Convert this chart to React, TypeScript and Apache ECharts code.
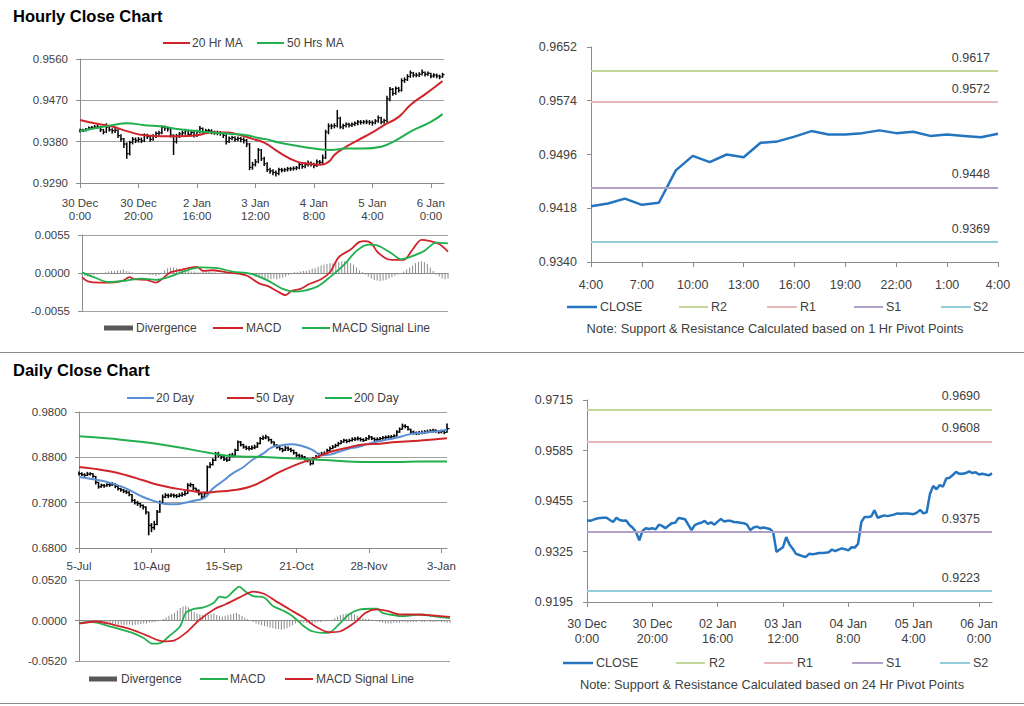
import React, { useEffect, useRef } from 'react';
import * as echarts from 'echarts';

const FONT = '"Liberation Sans", Arial, Helvetica, sans-serif';
const TXT = '#404040';
const AX = '#8c8c8c';
const GRID = '#a0a0a0';
const RED = '#d0242b';
const GREEN = '#22b04e';
const BLUE = '#5b8fd4';
const CLOSE_BLUE = '#2474c0';
const DIV_GRAY = '#8a8a8a';
const PIVOT_COLORS = ['#c4d79b', '#e6b8b7', '#b1a0c7', '#92cddc'];

// ---------- Hourly data (30 Dec 0:00 .. 06 Jan 4:00) ----------
const hourlyTickIdx = [0, 20, 40, 60, 80, 100, 120];
const hourlyTickLabels = ['30 Dec\n0:00', '30 Dec\n20:00', '2 Jan\n16:00', '3 Jan\n12:00', '4 Jan\n8:00', '5 Jan\n4:00', '6 Jan\n0:00'];
const pivotTickLabels = ['30 Dec\n0:00', '30 Dec\n20:00', '02 Jan\n16:00', '03 Jan\n12:00', '04 Jan\n8:00', '05 Jan\n4:00', '06 Jan\n0:00'];
const hourlyYTicks = [0.929, 0.938, 0.947, 0.956];

const hourlyClose = [
  0.9405, 0.9404, 0.9407, 0.9410, 0.9411, 0.9412, 0.9412, 0.9406, 0.9401, 0.9412,
  0.9406, 0.9404, 0.9405, 0.9393, 0.9386, 0.9375, 0.9354, 0.9378, 0.9385, 0.9383,
  0.9385, 0.9382, 0.9394, 0.9391, 0.9385, 0.9392, 0.9398, 0.9399, 0.9411, 0.9410,
  0.9408, 0.9394, 0.9380, 0.9393, 0.9397, 0.9399, 0.9404, 0.9396, 0.9400, 0.9394,
  0.9402, 0.9409, 0.9402, 0.9404, 0.9404, 0.9401, 0.9400, 0.9399, 0.9398, 0.9394,
  0.9380, 0.9387, 0.9389, 0.9385, 0.9387, 0.9385, 0.9383, 0.9375, 0.9324, 0.9330,
  0.9336, 0.9362, 0.9343, 0.9332, 0.9319, 0.9316, 0.9313, 0.9311, 0.9319, 0.9318,
  0.9319, 0.9321, 0.9321, 0.9322, 0.9323, 0.9330, 0.9326, 0.9330, 0.9333, 0.9331,
  0.9328, 0.9336, 0.9335, 0.9345, 0.9401, 0.9414, 0.9414, 0.9415, 0.9431, 0.9412,
  0.9415, 0.9418, 0.9416, 0.9418, 0.9420, 0.9423, 0.9422, 0.9423, 0.9423, 0.9422,
  0.9421, 0.9425, 0.9432, 0.9423, 0.9426, 0.9473, 0.9494, 0.9485, 0.9496, 0.9492,
  0.9513, 0.9515, 0.9522, 0.9530, 0.9525, 0.9525, 0.9527, 0.9531, 0.9527, 0.9529,
  0.9523, 0.9525, 0.9523, 0.9521, 0.9526,
];
const hourlyHigh = [
  0.9408, 0.9408, 0.9410, 0.9413, 0.9414, 0.9416, 0.9418, 0.9414, 0.9408, 0.9420,
  0.9414, 0.9409, 0.9409, 0.9407, 0.9396, 0.9388, 0.9378, 0.9382, 0.9390, 0.9389,
  0.9390, 0.9389, 0.9398, 0.9397, 0.9394, 0.9396, 0.9402, 0.9404, 0.9416, 0.9415,
  0.9413, 0.9410, 0.9396, 0.9397, 0.9401, 0.9404, 0.9408, 0.9406, 0.9404, 0.9403,
  0.9406, 0.9414, 0.9411, 0.9408, 0.9408, 0.9407, 0.9404, 0.9404, 0.9403, 0.9400,
  0.9396, 0.9391, 0.9393, 0.9392, 0.9391, 0.9390, 0.9389, 0.9386, 0.9377, 0.9336,
  0.9342, 0.9366, 0.9364, 0.9347, 0.9335, 0.9323, 0.9320, 0.9317, 0.9323, 0.9323,
  0.9323, 0.9325, 0.9325, 0.9326, 0.9327, 0.9335, 0.9333, 0.9335, 0.9339, 0.9337,
  0.9334, 0.9341, 0.9340, 0.9352, 0.9406, 0.9420, 0.9419, 0.9420, 0.9449, 0.9434,
  0.9419, 0.9422, 0.9421, 0.9422, 0.9424, 0.9427, 0.9427, 0.9427, 0.9428, 0.9427,
  0.9426, 0.9429, 0.9437, 0.9434, 0.9430, 0.9480, 0.9499, 0.9497, 0.9500, 0.9499,
  0.9518, 0.9520, 0.9527, 0.9535, 0.9532, 0.9530, 0.9531, 0.9537, 0.9533, 0.9533,
  0.9530, 0.9529, 0.9528, 0.9526, 0.9530,
];
const hourlyLow = [
  0.9400, 0.9401, 0.9402, 0.9405, 0.9407, 0.9408, 0.9408, 0.9401, 0.9396, 0.9399,
  0.9402, 0.9398, 0.9399, 0.9388, 0.9380, 0.9366, 0.9343, 0.9350, 0.9374, 0.9377,
  0.9378, 0.9377, 0.9379, 0.9386, 0.9380, 0.9382, 0.9388, 0.9393, 0.9396, 0.9404,
  0.9402, 0.9389, 0.9351, 0.9376, 0.9388, 0.9392, 0.9395, 0.9391, 0.9392, 0.9389,
  0.9390, 0.9398, 0.9397, 0.9398, 0.9399, 0.9396, 0.9395, 0.9394, 0.9393, 0.9388,
  0.9374, 0.9377, 0.9383, 0.9380, 0.9381, 0.9379, 0.9376, 0.9368, 0.9318, 0.9319,
  0.9326, 0.9333, 0.9338, 0.9327, 0.9314, 0.9310, 0.9307, 0.9304, 0.9307, 0.9313,
  0.9314, 0.9315, 0.9316, 0.9317, 0.9318, 0.9320, 0.9321, 0.9322, 0.9326, 0.9326,
  0.9322, 0.9325, 0.9329, 0.9331, 0.9342, 0.9396, 0.9407, 0.9409, 0.9411, 0.9408,
  0.9407, 0.9411, 0.9411, 0.9412, 0.9414, 0.9416, 0.9417, 0.9418, 0.9418, 0.9417,
  0.9415, 0.9418, 0.9421, 0.9418, 0.9419, 0.9422, 0.9468, 0.9480, 0.9482, 0.9487,
  0.9489, 0.9508, 0.9512, 0.9519, 0.9520, 0.9520, 0.9521, 0.9524, 0.9522, 0.9523,
  0.9518, 0.9519, 0.9518, 0.9516, 0.9519,
];
// [hour index, value]
const hourlyMA20 = [
  [0, 0.9427], [5, 0.9420], [11, 0.9413], [16, 0.9403], [22, 0.9394], [28, 0.9392], [34, 0.9392],
  [40, 0.9394], [45, 0.9400], [50, 0.9400], [55, 0.9394], [59, 0.9386], [63, 0.9378], [68, 0.9357],
  [74, 0.9337], [78, 0.9332], [82, 0.9330], [85, 0.9336], [87, 0.9351], [90, 0.9365], [95, 0.9383],
  [100, 0.9400], [104, 0.9416], [109, 0.9434], [113, 0.9460], [118, 0.9483], [122, 0.9502], [124, 0.9512],
];
const hourlyMA50 = [
  [0, 0.9403], [5, 0.9409], [11, 0.9416], [16, 0.9420], [22, 0.9416], [28, 0.9413], [34, 0.9407],
  [40, 0.9403], [45, 0.9400], [51, 0.9397], [57, 0.9394], [61, 0.9388], [64, 0.9385], [68, 0.9378],
  [74, 0.9371], [80, 0.9365], [86, 0.9362], [91, 0.9365], [97, 0.9365], [103, 0.9369], [108, 0.9383],
  [114, 0.9405], [120, 0.9423], [124, 0.9440],
];
const hourlyMACD = [
  [0, -0.0006], [2, -0.0012], [6, -0.0014], [10, -0.0014], [14, -0.0011], [16, -0.0006], [18, -0.0009],
  [22, -0.0010], [25, -0.0014], [27, -0.0009], [30, 0.0001], [33, 0.0004], [35, 0.0006], [39, 0.0009],
  [41, 0.0003], [44, 0.0004], [49, 0.0001], [53, -0.0001], [56, -0.0004], [60, -0.0015], [63, -0.0019],
  [66, -0.0026], [69, -0.0032], [71, -0.0026], [74, -0.0023], [77, -0.0016], [81, -0.0009], [84, 0.0001],
  [87, 0.0023], [91, 0.0034], [94, 0.0045], [96, 0.0046], [98, 0.0043], [100, 0.0031], [103, 0.0021],
  [105, 0.0019], [109, 0.0019], [112, 0.0034], [115, 0.0048], [118, 0.0046], [121, 0.0042], [124, 0.0031],
];
const hourlySignal = [
  [0, 0.0001], [4, -0.0006], [9, -0.0013], [15, -0.0011], [20, -0.0008], [25, -0.0010], [30, -0.0005],
  [35, 0.0003], [40, 0.0008], [46, 0.0007], [51, 0.0002], [57, -0.0001], [63, -0.0011], [68, -0.0023],
  [72, -0.0027], [75, -0.0026], [80, -0.0019], [84, -0.0006], [89, 0.0013], [93, 0.0032], [97, 0.0041],
  [100, 0.0040], [105, 0.0028], [108, 0.0020], [111, 0.0023], [116, 0.0032], [120, 0.0044], [124, 0.0043],
];
const hourlyDiv = [
  -0.0003, -0.0004, -0.0005, -0.0004, -0.0003, -0.0002, -0.0001, 0, 0.0001, 0.0002,
  0.0003, 0.0003, 0.0004, 0.0004, 0.0005, 0.0003, 0.0002, 0.0001, 0, 0,
  -0.0001, -0.0002, -0.0002, -0.0003, -0.0003, -0.0004, -0.0003, -0.0001, 0.0004, 0.0007,
  0.0008, 0.0008, 0.0007, 0.0006, 0.0005, 0.0003, 0.0003, 0.0002, 0.0002, 0.0001,
  0.0001, 0.0002, 0.0003, 0.0002, 0.0001, 0.0001, 0, 0, 0, -0.0001,
  0, 0, 0, -0.0001, 0, 0, -0.0001, -0.0002, -0.0003, -0.0005,
  -0.0006, -0.0007, -0.0008, -0.0009, -0.0009, -0.0008, -0.0009, -0.0008, -0.0007, -0.0005,
  -0.0003, 0, 0.0001, 0.0001, 0.0002, 0.0003, 0.0003, 0.0004, 0.0006, 0.0007,
  0.0009, 0.0011, 0.0012, 0.0013, 0.0014, 0.0014, 0.0015, 0.0016, 0.0017, 0.0017,
  0.0016, 0.0014, 0.0012, 0.0008, 0.0004, 0.0001, -0.0002, -0.0005, -0.0008, -0.0010,
  -0.0011, -0.0012, -0.0011, -0.0010, -0.0008, -0.0006, -0.0004, -0.0002, 0, 0.0002,
  0.0005, 0.0008, 0.0011, 0.0014, 0.0016, 0.0017, 0.0016, 0.0013, 0.0008, 0.0003,
  -0.0002, -0.0005, -0.0008, -0.0009, -0.0008,
];

// last 24 hours (5 Jan 4:00 .. 6 Jan 4:00)
const lastDayHours = ['4:00', '5:00', '6:00', '7:00', '8:00', '9:00', '10:00', '11:00', '12:00', '13:00', '14:00', '15:00', '16:00', '17:00', '18:00', '19:00', '20:00', '21:00', '22:00', '23:00', '0:00', '1:00', '2:00', '3:00', '4:00'];
const lastDayStart = 100;
const pivotNames = ['R2', 'R1', 'S1', 'S2'];
const hourlyPivots = [0.9617, 0.9572, 0.9448, 0.9369];
const hourPivotYTicks = [0.934, 0.9418, 0.9496, 0.9574, 0.9652];
const dailyPivots = [0.9690, 0.9608, 0.9375, 0.9223];
const dayPivotYTicks = [0.9195, 0.9325, 0.9455, 0.9585, 0.9715];

// ---------- Daily data (5 Jul .. 4 Jan) ----------
const dailyTickIdx = [0, 26, 52, 78, 104, 130];
const dailyTickLabels = ['5-Jul', '10-Aug', '15-Sep', '21-Oct', '28-Nov', '3-Jan'];
const dailyYTicks = [0.68, 0.78, 0.88, 0.98];
const dailyClose = [
  0.8441, 0.8420, 0.8404, 0.8430, 0.8441, 0.8380, 0.8250, 0.8150, 0.8183, 0.8170,
  0.8198, 0.8190, 0.8212, 0.8160, 0.8110, 0.8080, 0.8051, 0.8030, 0.7980, 0.7852,
  0.7800, 0.7779, 0.7740, 0.7704, 0.7594, 0.7300, 0.7250, 0.7320, 0.7594, 0.7800,
  0.7925, 0.7962, 0.7950, 0.7970, 0.7955, 0.7940, 0.7962, 0.7980, 0.8000, 0.8183,
  0.8198, 0.8120, 0.8073, 0.8000, 0.7925, 0.8000, 0.8587, 0.8640, 0.8735, 0.8882,
  0.8845, 0.8808, 0.8760, 0.8735, 0.8845, 0.8845, 0.8955, 0.9138, 0.9080, 0.9028,
  0.9000, 0.8992, 0.9010, 0.9028, 0.9100, 0.9213, 0.9230, 0.9249, 0.9190, 0.9138,
  0.9070, 0.9028, 0.8990, 0.8955, 0.9006, 0.8980, 0.8955, 0.8900, 0.8845, 0.8830,
  0.8808, 0.8770, 0.8735, 0.8660, 0.8772, 0.8810, 0.8860, 0.8870, 0.8882, 0.8950,
  0.8992, 0.9028, 0.9060, 0.9102, 0.9140, 0.9175, 0.9153, 0.9170, 0.9197, 0.9205,
  0.9213, 0.9190, 0.9175, 0.9210, 0.9249, 0.9215, 0.9190, 0.9200, 0.9213, 0.9230,
  0.9240, 0.9249, 0.9255, 0.9271, 0.9359, 0.9420, 0.9491, 0.9480, 0.9420, 0.9359,
  0.9340, 0.9323, 0.9340, 0.9345, 0.9360, 0.9365, 0.9380, 0.9396, 0.9370, 0.9360,
  0.9374, 0.9350, 0.9433,
];
const dailyHigh = [
  0.8490, 0.8470, 0.8450, 0.8480, 0.8470, 0.8450, 0.8390, 0.8260, 0.8220, 0.8210,
  0.8230, 0.8230, 0.8250, 0.8230, 0.8170, 0.8130, 0.8100, 0.8080, 0.8050, 0.7990,
  0.7880, 0.7840, 0.7800, 0.7760, 0.7720, 0.7600, 0.7350, 0.7400, 0.7640, 0.7850,
  0.7980, 0.8010, 0.8000, 0.8010, 0.8000, 0.7990, 0.8010, 0.8030, 0.8060, 0.8230,
  0.8240, 0.8210, 0.8130, 0.8090, 0.8020, 0.8040, 0.8620, 0.8690, 0.8780, 0.8920,
  0.8920, 0.8870, 0.8830, 0.8800, 0.8880, 0.8900, 0.8990, 0.9170, 0.9160, 0.9100,
  0.9060, 0.9050, 0.9060, 0.9080, 0.9140, 0.9250, 0.9280, 0.9300, 0.9260, 0.9210,
  0.9150, 0.9090, 0.9050, 0.9010, 0.9050, 0.9040, 0.9010, 0.8970, 0.8920, 0.8880,
  0.8860, 0.8830, 0.8790, 0.8750, 0.8810, 0.8850, 0.8900, 0.8920, 0.8930, 0.8990,
  0.9040, 0.9070, 0.9100, 0.9140, 0.9180, 0.9210, 0.9200, 0.9210, 0.9240, 0.9250,
  0.9260, 0.9240, 0.9220, 0.9250, 0.9290, 0.9270, 0.9240, 0.9240, 0.9250, 0.9270,
  0.9280, 0.9290, 0.9290, 0.9310, 0.9400, 0.9460, 0.9544, 0.9530, 0.9490, 0.9430,
  0.9390, 0.9370, 0.9380, 0.9390, 0.9400, 0.9410, 0.9420, 0.9430, 0.9420, 0.9400,
  0.9410, 0.9400, 0.9544,
];
const dailyLow = [
  0.8400, 0.8390, 0.8370, 0.8390, 0.8400, 0.8350, 0.8200, 0.8110, 0.8130, 0.8130,
  0.8150, 0.8150, 0.8170, 0.8120, 0.8070, 0.8040, 0.8010, 0.7990, 0.7940, 0.7810,
  0.7760, 0.7730, 0.7690, 0.7650, 0.7540, 0.7080, 0.7150, 0.7200, 0.7300, 0.7580,
  0.7780, 0.7900, 0.7900, 0.7920, 0.7910, 0.7900, 0.7920, 0.7930, 0.7950, 0.7990,
  0.8140, 0.8080, 0.8030, 0.7960, 0.7860, 0.7900, 0.7990, 0.8560, 0.8620, 0.8720,
  0.8800, 0.8760, 0.8720, 0.8700, 0.8720, 0.8800, 0.8830, 0.8940, 0.9040, 0.8990,
  0.8960, 0.8950, 0.8960, 0.8980, 0.9010, 0.9090, 0.9180, 0.9200, 0.9150, 0.9100,
  0.9030, 0.8990, 0.8950, 0.8910, 0.8940, 0.8940, 0.8910, 0.8860, 0.8800, 0.8790,
  0.8770, 0.8730, 0.8690, 0.8620, 0.8640, 0.8750, 0.8790, 0.8830, 0.8840, 0.8870,
  0.8940, 0.8980, 0.9010, 0.9040, 0.9090, 0.9120, 0.9110, 0.9130, 0.9150, 0.9160,
  0.9170, 0.9150, 0.9140, 0.9160, 0.9190, 0.9180, 0.9150, 0.9160, 0.9170, 0.9190,
  0.9200, 0.9210, 0.9210, 0.9230, 0.9260, 0.9340, 0.9410, 0.9440, 0.9390, 0.9320,
  0.9300, 0.9290, 0.9300, 0.9310, 0.9320, 0.9330, 0.9340, 0.9350, 0.9340, 0.9320,
  0.9330, 0.9310, 0.9340,
];
const dailyMA20 = [
  [0, 0.8366], [5, 0.8315], [11, 0.8242], [17, 0.8110], [23, 0.7925], [28, 0.7815], [31, 0.7770],
  [35, 0.7765], [38, 0.7800], [42, 0.7852], [45, 0.7903], [48, 0.8110], [52, 0.8293], [55, 0.8441],
  [59, 0.8587], [62, 0.8735], [66, 0.8880], [69, 0.9015], [73, 0.9065], [76, 0.9088], [80, 0.9050],
  [84, 0.8955], [87, 0.8845], [90, 0.8860], [93, 0.8918], [97, 0.8992], [100, 0.9028], [104, 0.9102],
  [108, 0.9160], [111, 0.9198], [115, 0.9249], [118, 0.9301], [122, 0.9337], [126, 0.9359], [129, 0.9381],
  [132, 0.9410],
];
const dailyMA50 = [
  [0, 0.8587], [5, 0.8551], [11, 0.8492], [17, 0.8404], [23, 0.8293], [29, 0.8183], [35, 0.8110],
  [41, 0.8051], [45, 0.8022], [49, 0.8040], [55, 0.8073], [61, 0.8146], [66, 0.8280], [72, 0.8477],
  [78, 0.8640], [84, 0.8772], [90, 0.8918], [96, 0.9006], [102, 0.9081], [108, 0.9102], [114, 0.9138],
  [120, 0.9160], [126, 0.9190], [132, 0.9220],
];
const dailyMA200 = [
  [0, 0.9264], [11, 0.9213], [23, 0.9138], [35, 0.9028], [47, 0.8896], [54, 0.8829], [60, 0.8815],
  [66, 0.8808], [78, 0.8772], [90, 0.8735], [102, 0.8697], [114, 0.8697], [122, 0.8710], [132, 0.8710],
];
const dailyMACD = [
  [0, -0.0030], [5, -0.0020], [10, -0.0065], [15, -0.0116], [19, -0.0159], [23, -0.0224], [26, -0.0297],
  [29, -0.0290], [32, -0.0202], [36, -0.0073], [38, 0.0099], [41, 0.0151], [44, 0.0164], [48, 0.0228],
  [50, 0.0306], [52, 0.0293], [55, 0.0378], [57, 0.0435], [59, 0.0378], [62, 0.0314], [66, 0.0293],
  [69, 0.0185], [73, 0.0120], [76, 0.0055], [80, -0.0073], [83, -0.0138], [87, -0.0159], [89, -0.0155],
  [93, -0.0030], [96, 0.0077], [100, 0.0142], [104, 0.0151], [106, 0.0151], [108, 0.0099], [112, 0.0069],
  [115, 0.0055], [119, 0.0069], [122, 0.0077], [126, 0.0055], [131, 0.0034], [132, 0.0034],
];
const dailySignal = [
  [0, -0.0039], [6, -0.0013], [12, -0.0052], [18, -0.0107], [24, -0.0190], [30, -0.0267], [34, -0.0254],
  [38, -0.0159], [43, 0.0013], [48, 0.0142], [52, 0.0206], [57, 0.0293], [62, 0.0370], [66, 0.0340],
  [70, 0.0249], [75, 0.0142], [80, 0.0034], [84, -0.0073], [89, -0.0151], [93, -0.0138], [98, -0.0030],
  [102, 0.0099], [106, 0.0142], [110, 0.0120], [114, 0.0077], [120, 0.0077], [126, 0.0064], [132, 0.0047],
];
const dailyDiv = [
  -0.001, -0.001, -0.0015, -0.002, -0.002, -0.0025, -0.003, -0.003, -0.0035, -0.004,
  -0.004, -0.0045, -0.005, -0.005, -0.0055, -0.005, -0.006, -0.0055, -0.005, -0.006,
  -0.0055, -0.005, -0.0045, -0.004, -0.004, -0.003, -0.0025, -0.002, -0.001, 0.0005,
  0.002, 0.004, 0.006, 0.008, 0.01, 0.013, 0.016, 0.018, 0.019, 0.017,
  0.013, 0.011, 0.009, 0.008, 0.007, 0.006, 0.007, 0.008, 0.009, 0.007,
  0.006, 0.005, 0.006, 0.007, 0.008, 0.009, 0.01, 0.008, 0.006, 0.004,
  0.002, 0, -0.002, -0.004, -0.005, -0.006, -0.007, -0.008, -0.009, -0.01,
  -0.011, -0.011, -0.012, -0.011, -0.01, -0.008, -0.006, -0.004, -0.002, -0.002,
  -0.003, -0.003, -0.004, -0.003, -0.003, -0.002, -0.002, -0.001, -0.001, 0,
  0.001, 0.003, 0.005, 0.007, 0.008, 0.009, 0.009, 0.009, 0.008, 0.006,
  0.004, 0.003, 0.002, 0.002, 0.001, 0, -0.001, -0.002, -0.003, -0.004,
  -0.004, -0.004, -0.003, -0.003, -0.003, -0.002, -0.002, -0.003, -0.002, -0.002,
  -0.002, -0.001, -0.002, -0.002, -0.001, -0.002, -0.002, -0.002, -0.001, -0.002,
  -0.002, -0.003, -0.003,
];

// ---------- helpers ----------
const fmt4 = (v: number) => (Math.abs(v) < 1e-9 ? 0 : v).toFixed(4);
const pickLabel = (labels: string[], idx: number[]) => (v: number) => {
  const k = idx.indexOf(Math.round(v));
  return k >= 0 ? labels[k] : '';
};
const axLine = { show: true, lineStyle: { color: AX, width: 1 } };
const lbl = (size: number, margin: number, extra: any = {}) => ({
  color: TXT, fontSize: size, fontFamily: FONT, margin, ...extra,
});

const hlcRender = (tick: number, lw: number) => (_p: any, api: any) => {
  const x = api.value(0);
  const hi = api.coord([x, api.value(1)]);
  const lo = api.coord([x, api.value(2)]);
  const cl = api.coord([x, api.value(3)]);
  return {
    type: 'group',
    children: [
      { type: 'line', shape: { x1: hi[0], y1: hi[1], x2: lo[0], y2: lo[1] }, style: { stroke: '#000', lineWidth: lw } },
      { type: 'line', shape: { x1: cl[0], y1: cl[1], x2: cl[0] + tick, y2: cl[1] }, style: { stroke: '#000', lineWidth: 1.2 } },
    ],
  };
};

const lineSeries = (name: string, x: number, y: number, data: any, color: string, width: number, smooth: number) => ({
  name, type: 'line', xAxisIndex: x, yAxisIndex: y, data, symbol: 'none', smooth,
  lineStyle: { color, width }, itemStyle: { color }, z: 4, silent: true,
});

const pivotMarkLine = (values: number[], dist: number[]) => ({
  silent: true,
  symbol: ['none', 'none'],
  precision: 4,
  animation: false,
  label: {
    show: true, position: 'insideEndTop', formatter: (p: any) => Number(p.value).toFixed(4),
    color: TXT, fontSize: 12.5, fontFamily: FONT, distance: dist,
  },
  data: values.map((v, k) => ({ name: pivotNames[k], yAxis: v, lineStyle: { color: PIVOT_COLORS[k], width: 2, type: 'solid' } })),
});

const gLine = (x1: number, x2: number, y: number, color: string, w: number) => ({
  type: 'line', silent: true, shape: { x1, y1: y, x2, y2: y }, style: { stroke: color, lineWidth: w },
});
const gText = (x: number, y: number, text: string, size = 12, extra: any = {}) => ({
  type: 'text', silent: true, x, y,
  style: { text, fill: TXT, fontSize: size, fontFamily: FONT, verticalAlign: 'middle', textVerticalAlign: 'middle', ...extra },
});

function buildOption(): any {
  const hourlyRows = hourlyClose.map((c, i) => [i, hourlyHigh[i], hourlyLow[i], c]);
  const dailyRows = dailyClose.map((c, i) => [i, dailyHigh[i], dailyLow[i], c]);

  const grid = [
    { left: 80, top: 59, width: 364, height: 124 },
    { left: 82, top: 235, width: 366, height: 76 },
    { left: 591, top: 47, width: 407, height: 215 },
    { left: 79, top: 412, width: 368, height: 136 },
    { left: 79, top: 580, width: 371, height: 81 },
    { left: 587, top: 400, width: 405, height: 202 },
  ];

  const xAxis = [
    {
      type: 'value', gridIndex: 0, min: 0, max: 124.5, axisLine: axLine,
      axisTick: { show: true, customValues: hourlyTickIdx, length: 5, lineStyle: { color: AX } },
      axisLabel: lbl(11.5, 13, { customValues: hourlyTickIdx, lineHeight: 13.5, formatter: pickLabel(hourlyTickLabels, hourlyTickIdx) }),
      splitLine: { show: false },
    },
    {
      type: 'value', gridIndex: 1, min: 0, max: 124, axisLine: axLine,
      axisTick: { show: false }, axisLabel: { show: false }, splitLine: { show: false },
    },
    {
      type: 'category', gridIndex: 2, data: lastDayHours, boundaryGap: false, axisLine: axLine,
      axisTick: { show: true, interval: 2, length: 5, lineStyle: { color: AX } },
      axisLabel: lbl(12.5, 16, { interval: 2 }),
    },
    {
      type: 'value', gridIndex: 3, min: 0, max: 132, axisLine: axLine,
      axisTick: { show: true, customValues: dailyTickIdx, length: 5, lineStyle: { color: AX } },
      axisLabel: lbl(11.5, 12, { customValues: dailyTickIdx, formatter: pickLabel(dailyTickLabels, dailyTickIdx) }),
      splitLine: { show: false },
    },
    {
      type: 'value', gridIndex: 4, min: 0, max: 132, axisLine: axLine,
      axisTick: { show: false }, axisLabel: { show: false }, splitLine: { show: false },
    },
    {
      type: 'value', gridIndex: 5, min: 0, max: 124, axisLine: axLine,
      axisTick: { show: true, customValues: hourlyTickIdx, length: 5, lineStyle: { color: AX } },
      axisLabel: lbl(12.5, 14, { customValues: hourlyTickIdx, lineHeight: 15, formatter: pickLabel(pivotTickLabels, hourlyTickIdx) }),
      splitLine: { show: false },
    },
  ];

  const yTick = (vals: number[] | null) => (vals
    ? { show: true, customValues: vals, length: 4, lineStyle: { color: AX } }
    : { show: true, length: 4, lineStyle: { color: AX } });

  const yAxis = [
    {
      type: 'value', gridIndex: 0, min: 0.929, max: 0.956, axisLine: axLine, axisTick: yTick(hourlyYTicks),
      axisLabel: lbl(11.5, 12, { customValues: hourlyYTicks, formatter: fmt4 }),
      splitLine: { show: true, lineStyle: { color: GRID, width: 1 } },
    },
    {
      type: 'value', gridIndex: 1, min: -0.0055, max: 0.0055, interval: 0.0055, axisLine: axLine, axisTick: yTick(null),
      axisLabel: lbl(11.5, 12, { formatter: fmt4 }),
      splitLine: { show: true, lineStyle: { color: GRID, width: 1 } },
    },
    {
      type: 'value', gridIndex: 2, min: 0.934, max: 0.9652, axisLine: axLine, axisTick: yTick(hourPivotYTicks),
      axisLabel: lbl(12.5, 14, { customValues: hourPivotYTicks, formatter: fmt4 }),
      splitLine: { show: false },
    },
    {
      type: 'value', gridIndex: 3, min: 0.68, max: 0.98, axisLine: axLine, axisTick: yTick(dailyYTicks),
      axisLabel: lbl(11.5, 12, { customValues: dailyYTicks, formatter: fmt4 }),
      splitLine: { show: true, lineStyle: { color: GRID, width: 1 } },
    },
    {
      type: 'value', gridIndex: 4, min: -0.052, max: 0.052, interval: 0.052, axisLine: axLine, axisTick: yTick(null),
      axisLabel: lbl(11.5, 12, { formatter: fmt4 }),
      splitLine: { show: true, lineStyle: { color: GRID, width: 1 } },
    },
    {
      type: 'value', gridIndex: 5, min: 0.9195, max: 0.9715, axisLine: axLine, axisTick: yTick(dayPivotYTicks),
      axisLabel: lbl(12.5, 14, { customValues: dayPivotYTicks, formatter: fmt4 }),
      splitLine: { show: false },
    },
  ];

  const series: any[] = [
    {
      name: 'Hourly bars', type: 'custom', xAxisIndex: 0, yAxisIndex: 0, data: hourlyRows,
      encode: { x: 0, y: [1, 2, 3] }, renderItem: hlcRender(2, 1.5), z: 2, silent: true,
    },
    lineSeries('20 Hr MA', 0, 0, hourlyMA20, RED, 2, 0.5),
    lineSeries('50 Hrs MA', 0, 0, hourlyMA50, GREEN, 2, 0.5),
    {
      name: 'Divergence', type: 'bar', xAxisIndex: 1, yAxisIndex: 1,
      data: hourlyDiv.map((v, i) => [i, v]), barWidth: 1, itemStyle: { color: DIV_GRAY }, z: 2, silent: true,
    },
    lineSeries('MACD', 1, 1, hourlyMACD, RED, 1.8, 0.3),
    lineSeries('MACD Signal Line', 1, 1, hourlySignal, GREEN, 1.8, 0.3),
    {
      ...lineSeries('CLOSE', 2, 2, hourlyClose.slice(lastDayStart), CLOSE_BLUE, 2.5, 0),
      markLine: pivotMarkLine(hourlyPivots, [8, 7]),
    },
    {
      name: 'Daily bars', type: 'custom', xAxisIndex: 3, yAxisIndex: 3, data: dailyRows,
      encode: { x: 0, y: [1, 2, 3] }, renderItem: hlcRender(2.5, 1.6), z: 2, silent: true,
    },
    lineSeries('20 Day', 3, 3, dailyMA20, BLUE, 2, 0.5),
    lineSeries('50 Day', 3, 3, dailyMA50, RED, 2, 0.5),
    lineSeries('200 Day', 3, 3, dailyMA200, GREEN, 2, 0.5),
    {
      name: 'Daily Divergence', type: 'bar', xAxisIndex: 4, yAxisIndex: 4,
      data: dailyDiv.map((v, i) => [i, v]), barWidth: 1, itemStyle: { color: DIV_GRAY }, z: 2, silent: true,
    },
    lineSeries('Daily MACD', 4, 4, dailyMACD, GREEN, 1.8, 0.3),
    lineSeries('Daily MACD Signal Line', 4, 4, dailySignal, RED, 1.8, 0.3),
    {
      ...lineSeries('Daily CLOSE', 5, 5, hourlyClose.map((v, i) => [i, v]), CLOSE_BLUE, 2.5, 0),
      markLine: pivotMarkLine(dailyPivots, [12, 7]),
    },
  ];

  const graphic: any[] = [
    gText(13, 16, 'Hourly Close Chart', 16.5, { fill: '#000', fontWeight: 'bold' }),
    gText(13, 370, 'Daily Close Chart', 16.5, { fill: '#000', fontWeight: 'bold' }),
    gLine(0, 1024, 352.5, '#8c8c8c', 1),
    gLine(0, 1024, 703.5, '#8c8c8c', 1),
    // hourly legend
    gLine(163, 190, 43, RED, 2), gText(192, 43, '20 Hr MA'),
    gLine(257, 284, 43, GREEN, 2), gText(287, 43, '50 Hrs MA'),
    // hourly MACD legend
    gLine(104, 133, 328, '#595959', 5), gText(136, 328, 'Divergence'),
    gLine(213, 243, 328, RED, 2), gText(246, 328, 'MACD'),
    gLine(302, 330, 328, GREEN, 2), gText(332, 328, 'MACD Signal Line'),
    // daily legend
    gLine(127, 154, 398, BLUE, 2), gText(156, 398, '20 Day'),
    gLine(227, 254, 398, RED, 2), gText(256, 398, '50 Day'),
    gLine(325, 352, 398, GREEN, 2), gText(354, 398, '200 Day'),
    // daily MACD legend
    gLine(89, 117, 679, '#595959', 5), gText(121, 679, 'Divergence'),
    gLine(200, 228, 679, GREEN, 2), gText(230, 679, 'MACD'),
    gLine(285, 313, 679, RED, 2), gText(316, 679, 'MACD Signal Line'),
    // top-right legend
    gLine(567, 597, 307, CLOSE_BLUE, 2.5), gText(600, 307, 'CLOSE', 12.5),
    gLine(679, 708, 307, PIVOT_COLORS[0], 2), gText(711, 307, 'R2', 12.5),
    gLine(767, 797, 307, PIVOT_COLORS[1], 2), gText(800, 307, 'R1', 12.5),
    gLine(854, 883, 307, PIVOT_COLORS[2], 2), gText(886, 307, 'S1', 12.5),
    gLine(941, 971, 307, PIVOT_COLORS[3], 2), gText(973, 307, 'S2', 12.5),
    gText(775, 328, 'Note: Support & Resistance Calculated based on 1 Hr Pivot Points', 12.8, { align: 'center', textAlign: 'center' }),
    // bottom-right legend
    gLine(563, 593, 663, CLOSE_BLUE, 2.5), gText(596, 663, 'CLOSE', 12.5),
    gLine(676, 705, 663, PIVOT_COLORS[0], 2), gText(709, 663, 'R2', 12.5),
    gLine(764, 793, 663, PIVOT_COLORS[1], 2), gText(797, 663, 'R1', 12.5),
    gLine(852, 883, 663, PIVOT_COLORS[2], 2), gText(886, 663, 'S1', 12.5),
    gLine(940, 970, 663, PIVOT_COLORS[3], 2), gText(973, 663, 'S2', 12.5),
    gText(772, 684, 'Note: Support & Resistance Calculated based on 24 Hr Pivot Points', 12.8, { align: 'center', textAlign: 'center' }),
  ];

  return {
    animation: false,
    backgroundColor: '#ffffff',
    textStyle: { fontFamily: FONT },
    grid,
    xAxis,
    yAxis,
    series,
    graphic,
  };
}

export default function App() {
  const ref = useRef<HTMLDivElement>(null);
  useEffect(() => {
    if (!ref.current) return;
    const chart = echarts.init(ref.current, null, { renderer: 'svg' });
    chart.setOption(buildOption());
    return () => chart.dispose();
  }, []);
  return (
    <div
      ref={ref}
      style={{ position: 'absolute', left: 0, top: 0, width: 1024, height: 706, background: '#fff' }}
    />
  );
}
